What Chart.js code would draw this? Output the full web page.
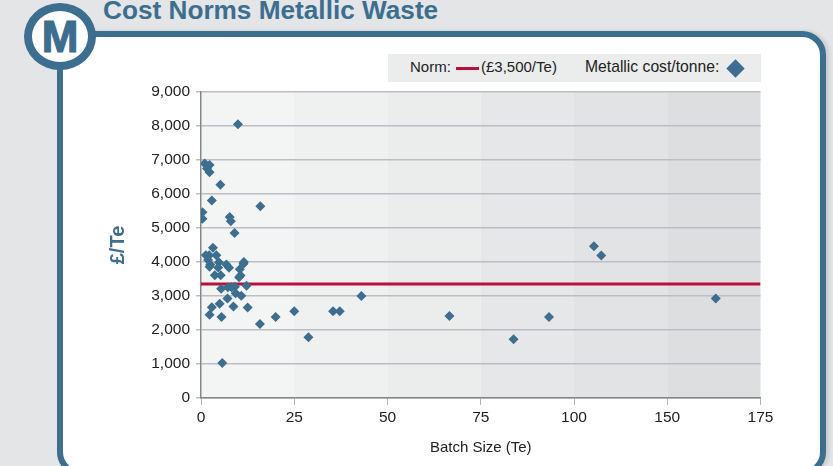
<!DOCTYPE html>
<html>
<head>
<meta charset="utf-8">
<title>Cost Norms Metallic Waste</title>
<script src="https://cdn.jsdelivr.net/npm/chart.js@4"></script>
<style>
html, body { margin: 0; padding: 0; }
body { width: 833px; height: 466px; overflow: hidden; position: relative; background: #e3e5e7; font-family: "Liberation Sans", Arial, sans-serif; }
#panel { position: absolute; left: 57px; top: 31px; width: 757px; height: 433px; background: #fff; border: 6px solid #3b6e8f; border-radius: 24px; box-shadow: 3px 0 4px rgba(0,0,0,0.12); }
#badge { position: absolute; left: 24px; top: 3px; width: 56px; height: 51px; background: #fff; border: 8px solid #3b6e8f; border-radius: 50%; color: #3b6e8f; font-weight: bold; font-size: 44px; line-height: 51px; text-align: center; -webkit-text-stroke: 1.2px #3b6e8f; }
#title { position: absolute; left: 103px; top: -6px; color: #3b6e8f; font-weight: bold; font-size: 26.2px; line-height: 32px; white-space: nowrap; }
#legend { position: absolute; left: 388px; top: 54px; width: 373px; height: 28px; background: #ebecec; color: #222; font-size: 15px; line-height: 26px; }
#legend span, #legend i { position: absolute; white-space: nowrap; }
#legend i.red { left: 68px; top: 13px; width: 23px; height: 3px; background: #bd0f3c; }
#legend i.dia { left: 341px; top: 8px; width: 13px; height: 13px; background: #3b6e8f; transform: rotate(45deg); }
canvas { position: absolute; left: 0; top: 0; }
</style>
</head>
<body>
<div id="panel"></div>
<div id="title">Cost Norms Metallic Waste</div>
<div id="badge">M</div>
<div id="legend">
  <span style="left:22px">Norm:</span><i class="red"></i><span style="left:93px">(£3,500/Te)</span>
  <span style="left:197px;font-size:15.7px">Metallic cost/tonne:</span><i class="dia"></i>
</div>
<canvas id="chart" width="833" height="466"></canvas>
<script>
const xTickLabels = [0, 25, 50, 75, 100, 150, 175];
const yTicksMax = 9000;
const bandColors = ['#f3f4f4', '#eff0f0', '#ebecec', '#e6e7e8', '#e2e3e4', '#dddee0'];

const batchSize = [9.9, 1.0, 2.3, 1.6, 2.3, 5.2, 2.9, 0.4, 0.4, 7.7, 8.0, 15.9, 9.0,
  3.2, 1.3, 2.2, 4.1, 1.9, 4.8, 2.5, 2.3, 4.6, 6.8, 7.5, 11.5, 11.4, 10.4, 10.6, 10.2,
  3.7, 5.3, 12.2, 5.4, 7.2, 8.2, 9.1, 9.3, 10.8, 7.1, 5.0, 2.9, 2.3, 5.5, 8.7, 12.5,
  15.8, 20, 25, 28.8, 35.4, 37.2, 43, 5.7, 66.6, 83.8, 93.3, 110.7, 114.6, 163];
const costPerTonne = [8050, 6900, 6850, 6750, 6640, 6270, 5810, 5460, 5270, 5320, 5200, 5640, 4850,
  4420, 4200, 4200, 4200, 4060, 3990, 3930, 3860, 3840, 3930, 3830, 4000, 3950, 3790, 3600, 3550,
  3610, 3610, 3300, 3210, 3260, 3260, 3270, 3080, 3010, 2930, 2770, 2670, 2450, 2380, 2690, 2660,
  2180, 2380, 2550, 1790, 2550, 2550, 3000, 1030, 2410, 1730, 2380, 4460, 4190, 2930];
const normX = [0, 175];
const normY = [3350, 3350];

// the axis labels jump from 100 to 150 on an evenly spaced axis
function axisPos(v) {
  for (let i = 1; i < xTickLabels.length; i++) {
    if (v <= xTickLabels[i]) {
      return (i - 1 + (v - xTickLabels[i - 1]) / (xTickLabels[i] - xTickLabels[i - 1])) * 25;
    }
  }
  return 150;
}

const bands = {
  id: 'bands',
  beforeDraw(chart) {
    const c = chart.ctx, x = chart.scales.x, a = chart.chartArea;
    bandColors.forEach((col, i) => {
      const l = x.getPixelForValue(i * 25), r = x.getPixelForValue((i + 1) * 25);
      c.fillStyle = col;
      c.fillRect(l, a.top, r - l, a.bottom - a.top);
    });
  }
};

new Chart(document.getElementById('chart'), {
  type: 'scatter',
  data: {
    datasets: [
      {
        label: 'Metallic cost/tonne',
        data: batchSize.map((v, i) => ({ x: axisPos(v), y: costPerTonne[i] })),
        pointStyle: 'rectRot',
        pointRadius: 5,
        backgroundColor: '#3b6e8f',
        borderColor: '#3b6e8f',
        borderWidth: 0,
        order: 1
      },
      {
        label: 'Norm',
        data: normX.map((v, i) => ({ x: axisPos(v), y: normY[i] })),
        showLine: true,
        pointRadius: 0,
        borderColor: '#bd0f3c',
        borderWidth: 3,
        order: 2
      }
    ]
  },
  options: {
    responsive: false,
    animation: false,
    layout: { padding: { left: 106, right: 72.5, top: 92, bottom: 9 } },
    plugins: { legend: { display: false }, tooltip: { enabled: false } },
    scales: {
      x: {
        type: 'linear',
        min: 0,
        max: 150,
        afterBuildTicks(s) { s.ticks = xTickLabels.map((v, i) => ({ value: i * 25 })); },
        afterFit(s) { s.height = 59; },
        ticks: {
          color: '#222',
          font: { family: 'Liberation Sans', size: 15.5 },
          padding: 3,
          maxRotation: 0,
          callback: (v, i) => String(xTickLabels[i])
        },
        grid: { drawOnChartArea: false, drawTicks: true, tickLength: 7, color: '#b4b5b9', lineWidth: 1 },
        border: { color: '#84868a', width: 1.5 },
        title: { display: true, text: 'Batch Size (Te)', color: '#222', font: { family: 'Liberation Sans', size: 15 }, padding: { top: 8, bottom: 0 } }
      },
      y: {
        min: 0,
        max: yTicksMax,
        afterFit(s) { s.width = 95; },
        ticks: {
          stepSize: 1000,
          color: '#222',
          font: { family: 'Liberation Sans', size: 15.5 },
          padding: 6,
          callback: v => v.toLocaleString('en-GB')
        },
        grid: { color: '#bcbdc3', lineWidth: 1.5, tickLength: 5 },
        border: { color: '#84868a', width: 1.5 },
        title: { display: true, text: '£/Te', color: '#3b6e8f', font: { family: 'Liberation Sans', size: 20, weight: 'bold' }, padding: 0 }
      }
    }
  },
  plugins: [bands]
});
</script>
</body>
</html>
